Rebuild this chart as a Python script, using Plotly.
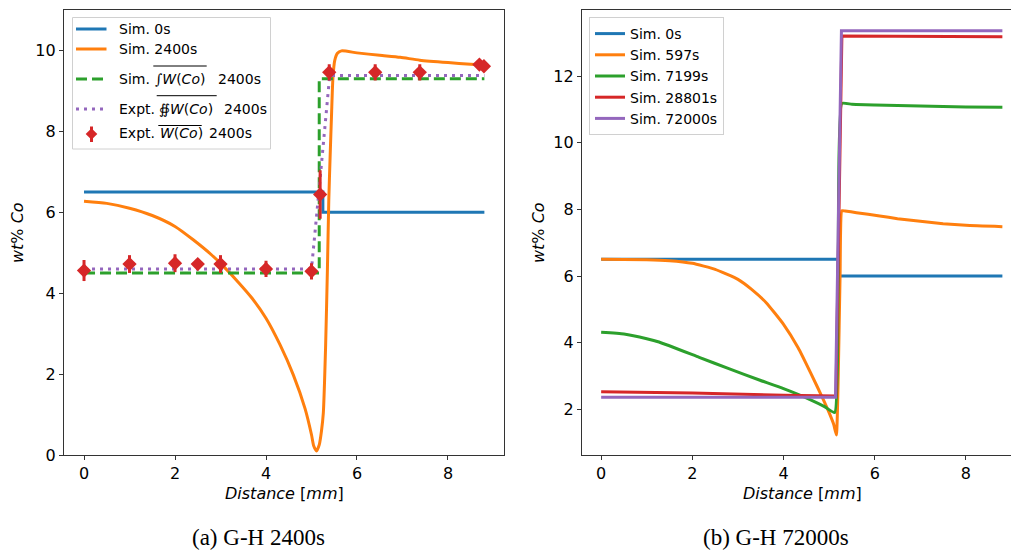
import plotly.graph_objects as go

# ---------------- data: left panel (G-H 2400s) ----------------
a_sim0_x = [0, 5.25, 5.25, 8.8]
a_sim0_y = [6.5, 6.5, 6.0, 6.0]

a_sim2400_x = [0, 0.5, 1.0, 1.5, 2.0, 2.4, 2.8, 3.05, 3.4, 3.69, 4.0, 4.31, 4.6, 4.86,
               5.0, 5.05, 5.11, 5.17, 5.22, 5.26, 5.31, 5.35, 5.38, 5.41, 5.44, 5.47,
               5.51, 5.57, 5.66, 6.0, 6.5, 6.95, 7.38, 8.0, 8.5, 8.8]
a_sim2400_y = [6.27, 6.22, 6.1, 5.92, 5.65, 5.32, 4.95, 4.68, 4.26, 3.88, 3.38, 2.72, 1.98, 1.14,
               0.5, 0.22, 0.1, 0.25, 0.6, 1.04, 2.68, 4.6, 6.3, 7.4, 8.4, 9.3,
               9.75, 9.93, 9.99, 9.94, 9.88, 9.83, 9.76, 9.7, 9.66, 9.64]

a_simint_x = [0, 5.17, 5.17, 8.8]
a_simint_y = [4.5, 4.5, 9.3, 9.3]

a_exptint_x = [0, 5.0, 5.17, 5.36, 5.4, 8.8]
a_exptint_y = [4.6, 4.6, 6.6, 8.9, 9.38, 9.38]

a_expt_x = [0, 1, 2, 2.5, 3, 4, 5, 5.19, 5.39, 6.4, 7.38, 8.69, 8.79]
a_expt_y = [4.56, 4.72, 4.74, 4.72, 4.72, 4.6, 4.54, 6.44, 9.46, 9.46, 9.46, 9.65, 9.61]
a_expt_err = [0.26, 0.22, 0.22, 0.12, 0.22, 0.2, 0.2, 0.6, 0.2, 0.2, 0.2, 0.1, 0.05]

# ---------------- data: right panel (G-H 72000s) ----------------
b_sim0_x = [0, 5.2, 5.2, 8.8]
b_sim0_y = [6.5, 6.5, 6.0, 6.0]

b_sim597_x = [0, 1, 1.5, 2, 2.5, 3, 3.3, 3.62, 4.0, 4.32, 4.6, 4.86, 5.0, 5.1, 5.16,
              5.2, 5.24, 5.28, 5.35, 5.6, 6.11, 6.5, 7, 7.5, 8, 8.8]
b_sim597_y = [6.5, 6.49, 6.46, 6.38, 6.2, 5.9, 5.6, 5.2, 4.55, 3.85, 3.08, 2.33, 1.9, 1.55, 1.23,
              3.0, 6.0, 7.96, 7.95, 7.9, 7.8, 7.72, 7.64, 7.57, 7.52, 7.48]

b_sim7199_x = [0, 0.5, 1.0, 1.27, 2.15, 2.8, 3.47, 4.0, 4.57, 4.9, 5.12, 5.2, 5.28, 5.5, 6, 7, 8, 8.8]
b_sim7199_y = [4.31, 4.26, 4.12, 4.02, 3.56, 3.22, 2.88, 2.62, 2.3, 2.08, 1.9, 6.0, 11.18, 11.15,
               11.13, 11.1, 11.07, 11.06]

b_sim28801_x = [0, 2, 4, 5.1, 5.15, 5.28, 8.8]
b_sim28801_y = [2.53, 2.49, 2.42, 2.38, 2.4, 13.2, 13.18]

b_sim72000_x = [0, 5.14, 5.27, 8.8]
b_sim72000_y = [2.36, 2.36, 13.36, 13.36]

x_ticks = [0, 2, 4, 6, 8]
a_y_ticks = [0, 2, 4, 6, 8, 10]
b_y_ticks = [2, 4, 6, 8, 10, 12]

BLUE, ORANGE, GREEN, RED, PURPLE = "#1f77b4", "#ff7f0e", "#2ca02c", "#d62728", "#9467bd"
W, H = 1011, 550
LW = 3
DASH_A = "11px,5px"
DOT_A = "3px,5px"

fig = go.Figure()

fig.add_trace(go.Scatter(x=a_sim0_x, y=a_sim0_y, mode="lines", name="Sim. 0s",
                         line=dict(color=BLUE, width=LW), xaxis="x", yaxis="y", showlegend=False))
fig.add_trace(go.Scatter(x=a_sim2400_x, y=a_sim2400_y, mode="lines", name="Sim. 2400s",
                         line=dict(color=ORANGE, width=LW, shape="spline", smoothing=0.6),
                         xaxis="x", yaxis="y", showlegend=False))
fig.add_trace(go.Scatter(x=a_simint_x, y=a_simint_y, mode="lines", name="Sim. int W(Co) 2400s",
                         line=dict(color=GREEN, width=LW, dash=DASH_A),
                         xaxis="x", yaxis="y", showlegend=False))
fig.add_trace(go.Scatter(x=a_exptint_x, y=a_exptint_y, mode="lines", name="Expt. oint W(Co) 2400s",
                         line=dict(color=PURPLE, width=LW, dash=DOT_A),
                         xaxis="x", yaxis="y", showlegend=False))
fig.add_trace(go.Scatter(x=a_expt_x, y=a_expt_y, mode="markers", name="Expt. W(Co) 2400s",
                         marker=dict(color=RED, symbol="diamond", size=11, line=dict(width=0)),
                         error_y=dict(type="data", array=a_expt_err, color=RED, thickness=3, width=0),
                         xaxis="x", yaxis="y", showlegend=False))

for xs, ys, nm, col, smooth in [(b_sim0_x, b_sim0_y, "Sim. 0s", BLUE, False),
                                (b_sim597_x, b_sim597_y, "Sim. 597s", ORANGE, True),
                                (b_sim7199_x, b_sim7199_y, "Sim. 7199s", GREEN, True),
                                (b_sim28801_x, b_sim28801_y, "Sim. 28801s", RED, False),
                                (b_sim72000_x, b_sim72000_y, "Sim. 72000s", PURPLE, False)]:
    ln = dict(color=col, width=LW)
    if smooth:
        ln.update(shape="spline", smoothing=0.4)
    fig.add_trace(go.Scatter(x=xs, y=ys, mode="lines", name=nm, line=ln,
                             xaxis="x2", yaxis="y2", legend="legend2"))

# geometry in pixels
a_left, a_right = 64, 504.4
b_left, b_right = 582, 1011
y_top, y_bot = 10, 455
ydom = [1 - y_bot / H, 1 - y_top / H]
SP = "#333333"
tickfont = dict(family="DejaVu Sans", size=16, color="black")
common = dict(showgrid=False, zeroline=False, ticks="outside", ticklen=4, tickwidth=1,
              tickcolor=SP, linecolor=SP, linewidth=1.2, showline=True, tickfont=tickfont)

fig.update_layout(
    width=W, height=H, margin=dict(l=0, r=0, t=0, b=0, autoexpand=False),
    plot_bgcolor="white", paper_bgcolor="white",
    xaxis=dict(domain=[a_left / W, a_right / W], range=[-0.44, 9.24], tickvals=x_ticks,
               mirror=True, anchor="y", **common),
    yaxis=dict(domain=ydom, range=[0, 11.0], tickvals=a_y_ticks, mirror=True, anchor="x", **common),
    xaxis2=dict(domain=[b_left / W, b_right / W], range=[-0.42, (1011 - 602) / 45.5],
                tickvals=x_ticks, mirror=True, anchor="y2", **common),
    yaxis2=dict(domain=ydom, range=[0.63, 13.98], tickvals=b_y_ticks, anchor="x2", **common),
    legend2=dict(x=589 / W, y=1 - 17 / H, xanchor="left", yanchor="top",
                 bgcolor="rgba(255,255,255,0.85)", bordercolor="#d0d0d0", borderwidth=1,
                 font=dict(family="DejaVu Sans", size=14, color="black"), itemwidth=30,
                 tracegroupgap=0),
    showlegend=True,
)


def px(x):
    return x / W


def py(y):
    return 1 - y / H


# ---------- manual legend for the left panel (needs overlined math labels) ----------
shapes = []
annots = []
shapes.append(dict(type="rect", xref="paper", yref="paper", x0=px(72.5), x1=px(270.5),
                   y0=py(149), y1=py(17.5), line=dict(color="#d0d0d0", width=1),
                   fillcolor="rgba(255,255,255,0.85)", layer="above"))
lx0, lx1 = 76, 106.5
tx = 117.3
LF = dict(family="DejaVu Sans", size=14, color="black")
rows = [(29, BLUE, "solid"), (49, ORANGE, "solid"), (79, GREEN, DASH_A), (109, PURPLE, DOT_A)]
for yy, col, dsh in rows:
    shapes.append(dict(type="line", xref="paper", yref="paper", x0=px(lx0), x1=px(lx1),
                       y0=py(yy), y1=py(yy), line=dict(color=col, width=LW, dash=dsh), layer="above"))
# marker with error bar sample
mx, my, r = 91.5, 134, 5.8
shapes.append(dict(type="line", xref="paper", yref="paper", x0=px(mx), x1=px(mx),
                   y0=py(126.5), y1=py(142), line=dict(color=RED, width=3), layer="above"))
shapes.append(dict(type="path", xref="paper", yref="paper", layer="above",
                   path=f"M {px(mx-r)},{py(my)} L {px(mx)},{py(my-r)} L {px(mx+r)},{py(my)} L {px(mx)},{py(my+r)} Z",
                   fillcolor=RED, line=dict(color=RED, width=0)))

INTF = "<span style='font-family:DejaVu Serif'>"
legend_text = [
    (tx, 29, "Sim. 0s"), (tx, 49, "Sim. 2400s"),
    (tx, 79, "Sim."), (152.5, 79, INTF + "\u222b</span><i>W</i>(<i>Co</i>)"), (216, 79, "2400s"),
    (tx, 109, "Expt."), (156.5, 109, INTF + "\u222f</span><i>W</i>(<i>Co</i>)"), (221.5, 109, "2400s"),
    (tx, 133, "Expt."), (158.3, 133, "<i>W</i>(<i>Co</i>)"), (206.7, 133, "2400s"),
]
for xx, yy, t in legend_text:
    annots.append(dict(x=px(xx), y=py(yy), text=t, xanchor="left", yanchor="middle", font=LF))
# overlines
for x0, x1, yy in [(153.3, 206.7, 66), (156.7, 216.7, 95.7), (158.3, 201.7, 125.5)]:
    shapes.append(dict(type="line", xref="paper", yref="paper", x0=px(x0), x1=px(x1),
                       y0=py(yy), y1=py(yy), line=dict(color="black", width=1), layer="above"))

lab = dict(family="DejaVu Sans", size=16, color="black")
annots += [
    dict(x=px(284), y=py(493), text="<i>Distance</i> [<i>mm</i>]", font=lab),
    dict(x=px(802), y=py(493), text="<i>Distance</i> [<i>mm</i>]", font=lab),
    dict(x=px(18), y=py(233), text="<i>wt</i>% <i>Co</i>", textangle=-90, font=lab),
    dict(x=px(539), y=py(233), text="<i>wt</i>% <i>Co</i>", textangle=-90, font=lab),
]
cap = dict(family="Liberation Serif", size=23, color="black")
annots += [
    dict(x=px(258), y=py(537), text="(a) G-H 2400s", font=cap),
    dict(x=px(776), y=py(537), text="(b) G-H 72000s", font=cap),
]
for an in annots:
    an.setdefault("xanchor", "center")
    an.setdefault("yanchor", "middle")
    fig.add_annotation(xref="paper", yref="paper", showarrow=False, **an)

fig.update_layout(shapes=shapes)
fig.write_html("out.html")
